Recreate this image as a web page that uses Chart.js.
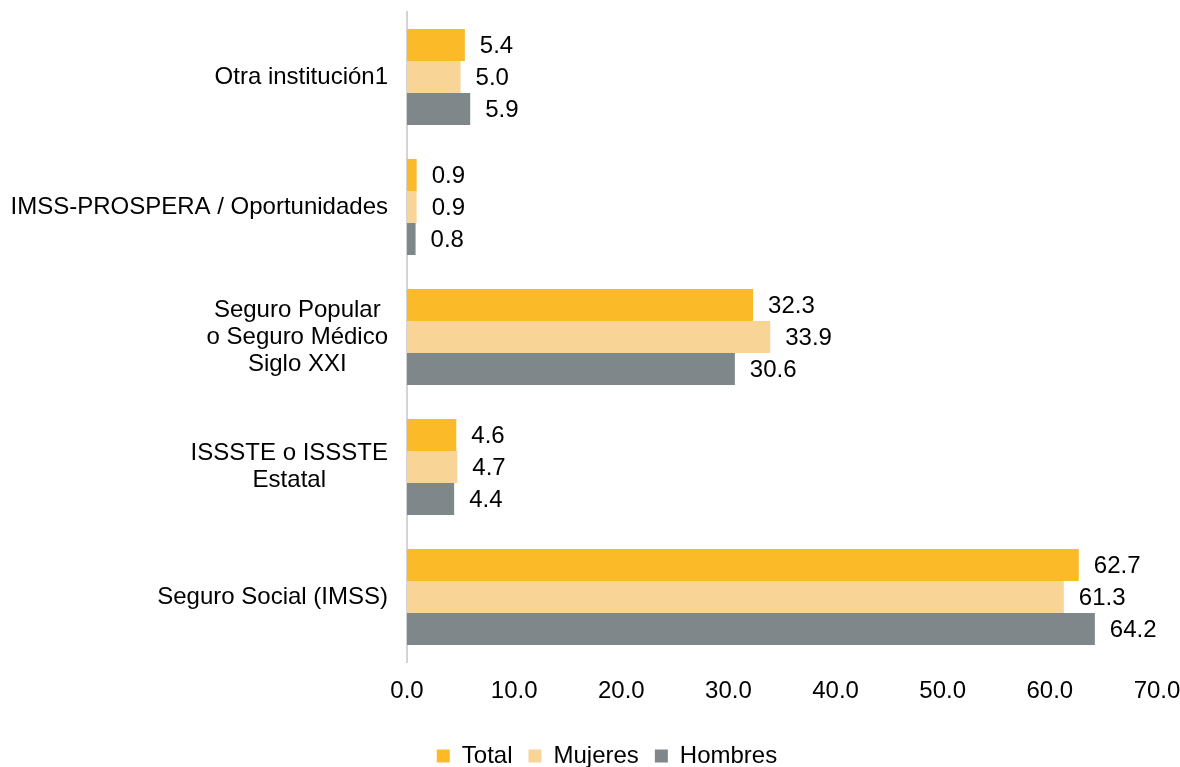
<!DOCTYPE html>
<html>
<head>
<meta charset="utf-8">
<script src="https://cdn.jsdelivr.net/npm/chart.js@4"></script>
<style>
  html, body { margin: 0; padding: 0; background: #fff; }
  #wrap { width: 1180px; height: 767px; }
</style>
</head>
<body>
<div id="wrap"><canvas id="chart"></canvas></div>
<script>
'use strict'

// data
const categories = [
  ['Otra institución1'],
  ['IMSS-PROSPERA / Oportunidades'],
  ['Seguro Popular', 'o Seguro Médico', 'Siglo XXI'],
  ['ISSSTE o ISSSTE', 'Estatal'],
  ['Seguro Social (IMSS)']
];
const total = [5.4, 0.9, 32.3, 4.6, 62.7];
const mujeres = [5.0, 0.9, 33.9, 4.7, 61.3];
const hombres = [5.9, 0.8, 30.6, 4.4, 64.2];
const xTicks = [0, 10, 20, 30, 40, 50, 60, 70];

const FONT = "'Liberation Sans', Arial, sans-serif";
const SIZE = 24;

// category labels: lines centred in a block, block right-aligned against the axis
const yLabels = {
  id: 'yLabels',
  afterDraw(chart) {
    const ctx = chart.ctx;
    const y = chart.scales.y;
    const right = chart.chartArea.left - 19;
    const lh = 27;
    ctx.save();
    ctx.font = SIZE + 'px ' + FONT;
    ctx.fillStyle = '#000';
    ctx.textAlign = 'center';
    ctx.textBaseline = 'middle';
    categories.forEach(function(lines, i) {
      var w = 0;
      lines.forEach(function(l) { w = Math.max(w, ctx.measureText(l).width); });
      var cx = right - w / 2;
      var cy = y.getPixelForValue(i);
      var y0 = cy - (lines.length - 1) * lh / 2;
      lines.forEach(function(l, k) { ctx.fillText(l, cx, y0 + k * lh); });
    });
    ctx.restore();
  }
};

// value labels at the end of each bar
const valueLabels = {
  id: 'valueLabels',
  afterDatasetsDraw(chart) {
    const ctx = chart.ctx;
    ctx.save();
    ctx.font = SIZE + 'px ' + FONT;
    ctx.fillStyle = '#000';
    ctx.textAlign = 'left';
    ctx.textBaseline = 'middle';
    chart.data.datasets.forEach(function(ds, di) {
      chart.getDatasetMeta(di).data.forEach(function(bar, i) {
        ctx.fillText(ds.data[i].toFixed(1), bar.x + 15, bar.y + 1);
      });
    });
    ctx.restore();
  }
};

const chartEl = document.getElementById('chart').getContext('2d');

let chart = new Chart(chartEl, {
  type: 'bar',
  data: {
    labels: categories,
    datasets: [
      { label: 'Total', backgroundColor: '#fbbb29', data: total },
      { label: 'Mujeres', backgroundColor: '#f9d497', data: mujeres },
      { label: 'Hombres', backgroundColor: '#7f878b', data: hombres }
    ]
  },
  options: {
    indexAxis: 'y',
    responsive: true,
    maintainAspectRatio: false,
    animation: false,
    categoryPercentage: 0.738,
    barPercentage: 1,
    layout: { padding: { top: 12, left: 34, right: 0, bottom: -11 } },
    scales: {
      x: {
        min: 0,
        max: 70,
        grid: { display: false, drawTicks: false },
        border: { display: false },
        afterBuildTicks: function(scale) {
          scale.ticks = xTicks.map(function(v) { return { value: v }; });
        },
        afterFit: function(scale) {
          scale.height = 66;
          scale.paddingRight = 23;
        },
        ticks: {
          padding: 15,
          color: '#000',
          font: { family: FONT, size: SIZE },
          callback: function(v) { return Number(v).toFixed(1); }
        }
      },
      y: {
        grid: { display: false },
        border: { display: true, color: '#d4d4d4', width: 2 },
        ticks: { display: false },
        afterFit: function(scale) { scale.width = 373; }
      }
    },
    plugins: {
      tooltip: { enabled: false },
      legend: {
        position: 'bottom',
        labels: {
          boxWidth: 13,
          boxHeight: 13,
          padding: 16,
          color: '#000',
          font: { family: FONT, size: SIZE }
        }
      }
    }
  },
  plugins: [yLabels, valueLabels]
});
</script>
</body>
</html>
